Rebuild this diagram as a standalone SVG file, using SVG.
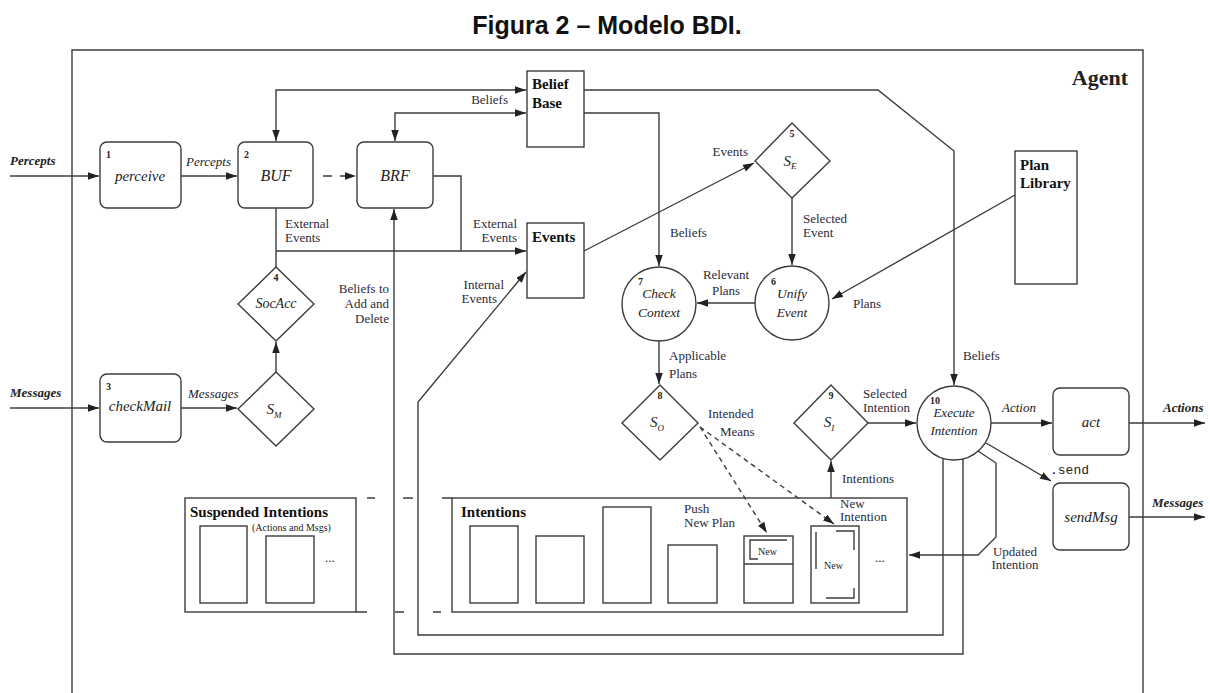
<svg xmlns="http://www.w3.org/2000/svg" width="1210" height="693" viewBox="0 0 1210 693">
<style>
.ln{fill:none;stroke:#3c3c3c;stroke-width:1.4}
.box{fill:#fff;stroke:#3c3c3c;stroke-width:1.4}
.t{font-family:"Liberation Serif",serif;fill:#222}
.lbl{font-family:"Liberation Serif",serif;font-size:13px;fill:#2a2a3a}
.it{font-family:"Liberation Serif",serif;font-style:italic;fill:#222}
.num{font-family:"Liberation Serif",serif;font-weight:bold;font-size:10px;fill:#222}
.bi{font-family:"Liberation Serif",serif;font-style:italic;font-weight:bold;font-size:13px;fill:#222}
.b{font-family:"Liberation Serif",serif;font-weight:bold;font-size:15px;fill:#111}
</style>
<defs>
<marker id="ah" markerUnits="userSpaceOnUse" markerWidth="12" markerHeight="8" refX="11" refY="3.75" orient="auto-start-reverse" viewBox="0 0 12 8">
<path d="M0,0 L11,3.75 L0,7.5 z" fill="#222"/>
</marker>
</defs>
<rect width="1210" height="693" fill="#fff"/>
<text x="607" y="34" text-anchor="middle" font-family="Liberation Sans, Arial, sans-serif" font-weight="bold" font-size="25" fill="#111">Figura 2 – Modelo BDI.</text>

<g id="agent-frame">
<path class="ln" d="M72,693 V50 H1143 V693"/>
<text x="1128" y="85" text-anchor="end" class="t" font-weight="bold" font-size="22">Agent</text>
</g>

<g id="n1-perceive">
<rect class="box" x="100" y="142" width="81" height="66" rx="7"/>
<text x="106" y="158" class="num">1</text>
<text x="140" y="181" text-anchor="middle" class="it" font-size="15">perceive</text>
</g>
<g id="n2-buf">
<rect class="box" x="238" y="142" width="75" height="66" rx="7"/>
<text x="244" y="158" class="num">2</text>
<text x="276" y="181" text-anchor="middle" class="it" font-size="16">BUF</text>
</g>
<g id="brf">
<rect class="box" x="357" y="142" width="76" height="66" rx="7"/>
<text x="395" y="181" text-anchor="middle" class="it" font-size="16">BRF</text>
</g>
<g id="belief-base">
<rect class="box" x="527" y="71" width="57" height="76"/>
<text x="532" y="89" class="b">Belief</text>
<text x="532" y="108" class="b">Base</text>
</g>
<g id="events">
<rect class="box" x="527" y="223" width="57" height="75"/>
<text x="532" y="242" class="b">Events</text>
</g>
<g id="plan-library">
<rect class="box" x="1015" y="151" width="62" height="133"/>
<text x="1020" y="170" class="b">Plan</text>
<text x="1020" y="188" class="b">Library</text>
</g>
<g id="n3-checkmail">
<rect class="box" x="100" y="374" width="81" height="68" rx="7"/>
<text x="106" y="390" class="num">3</text>
<text x="140" y="411" text-anchor="middle" class="it" font-size="15">checkMail</text>
</g>
<g id="n4-socacc">
<path class="box" d="M276,267 L314,304 L276,341 L238,304 Z"/>
<text x="276" y="281" text-anchor="middle" class="num">4</text>
<text x="276" y="308" text-anchor="middle" class="it" font-size="14">SocAcc</text>
</g>
<g id="sm">
<path class="box" d="M276,372 L314,409 L276,446 L238,409 Z"/>
<text x="274" y="414" text-anchor="middle" class="it" font-size="15">S<tspan font-size="9" dy="4">M</tspan></text>
</g>
<g id="n5-se">
<path class="box" d="M792,123 L830,161 L792,198 L755,161 Z"/>
<text x="792" y="137" text-anchor="middle" class="num">5</text>
<text x="790" y="166" text-anchor="middle" class="it" font-size="15">S<tspan font-size="9" dy="3">E</tspan></text>
</g>
<g id="n6-unify">
<circle class="box" cx="792" cy="303" r="37"/>
<text x="771" y="285" class="num">6</text>
<text x="792" y="298" text-anchor="middle" class="it" font-size="13.5">Unify</text>
<text x="792" y="317" text-anchor="middle" class="it" font-size="13.5">Event</text>
</g>
<g id="n7-check">
<circle class="box" cx="659" cy="304" r="37"/>
<text x="638" y="285" class="num">7</text>
<text x="659" y="298" text-anchor="middle" class="it" font-size="13.5">Check</text>
<text x="659" y="317" text-anchor="middle" class="it" font-size="13.5">Context</text>
</g>
<g id="n8-so">
<path class="box" d="M660,385 L698,423 L660,460 L622,423 Z"/>
<text x="660" y="399" text-anchor="middle" class="num">8</text>
<text x="657" y="427" text-anchor="middle" class="it" font-size="15">S<tspan font-size="9" dy="4">O</tspan></text>
</g>
<g id="n9-si">
<path class="box" d="M831,385 L868,423 L831,460 L794,423 Z"/>
<text x="831" y="399" text-anchor="middle" class="num">9</text>
<text x="829" y="427" text-anchor="middle" class="it" font-size="15">S<tspan font-size="9" dy="4">I</tspan></text>
</g>
<g id="n10-execute">
<circle class="box" cx="954" cy="423" r="37"/>
<text x="930" y="404" class="num">10</text>
<text x="954" y="417" text-anchor="middle" class="it" font-size="13">Execute</text>
<text x="954" y="435" text-anchor="middle" class="it" font-size="13">Intention</text>
</g>
<g id="act">
<rect class="box" x="1053" y="388" width="76" height="67" rx="7"/>
<text x="1091" y="427" text-anchor="middle" class="it" font-size="15">act</text>
</g>
<g id="sendmsg">
<rect class="box" x="1053" y="483" width="76" height="67" rx="7"/>
<text x="1091" y="522" text-anchor="middle" class="it" font-size="15">sendMsg</text>
</g>
<g id="suspended-intentions">
<rect class="box" x="185" y="498" width="171" height="114"/>
<text x="190" y="517" class="b">Suspended Intentions</text>
<text x="252" y="531" class="t" font-size="10">(Actions and Msgs)</text>
<rect class="box" x="200" y="526" width="47" height="77"/>
<rect class="box" x="266" y="536" width="48" height="67"/>
<text x="325" y="562" class="t" font-size="13">...</text>
</g>
<g id="intentions">
<rect class="box" x="452" y="498" width="455" height="114"/>
<text x="461" y="517" class="b">Intentions</text>
<rect class="box" x="470" y="526" width="48" height="77"/>
<rect class="box" x="536" y="536" width="48" height="67"/>
<rect class="box" x="603" y="507" width="48" height="96"/>
<rect class="box" x="668" y="545" width="49" height="58"/>
<rect class="box" x="744" y="536" width="49" height="67"/>
<path class="ln" d="M744,564 H793 M787,540 H750 V559 H758"/>
<text x="758" y="555" class="t" font-size="10">New</text>
<rect class="box" x="811" y="526" width="48" height="77"/>
<path class="ln" d="M836,531 H854 V550 M854,588 V598 H826 M816,532 V569"/>
<text x="824" y="569" class="t" font-size="10">New</text>
<text x="875" y="562" class="t" font-size="13">...</text>
</g>

<g id="connectors">
<path class="ln" d="M10,176 H99" marker-end="url(#ah)"/>
<path class="ln" d="M181,176 H237" marker-end="url(#ah)"/>
<path class="ln" d="M323,176 H356" stroke-dasharray="9,8" marker-end="url(#ah)"/>
<path class="ln" d="M276,141 V90 H526" marker-start="url(#ah)" marker-end="url(#ah)"/>
<path class="ln" d="M395,141 V113 H526" marker-start="url(#ah)" marker-end="url(#ah)"/>
<path class="ln" d="M433,176 H461 V251"/>
<path class="ln" d="M276,208 V267"/>
<path class="ln" d="M276,251 H526" marker-end="url(#ah)"/>
<path class="ln" d="M276,372 V342" marker-end="url(#ah)"/>
<path class="ln" d="M10,408 H99" marker-end="url(#ah)"/>
<path class="ln" d="M181,408 H237" marker-end="url(#ah)"/>
<path class="ln" d="M584,251 L754,163" marker-end="url(#ah)"/>
<path class="ln" d="M792,198 V265" marker-end="url(#ah)"/>
<path class="ln" d="M584,113 H659 V266" marker-end="url(#ah)"/>
<path class="ln" d="M584,90 H878 L954,151 V385" marker-end="url(#ah)"/>
<path class="ln" d="M1015,195 L832,299" marker-end="url(#ah)"/>
<path class="ln" d="M755,303 H697" marker-end="url(#ah)"/>
<path class="ln" d="M659,341 V384" marker-end="url(#ah)"/>
<path class="ln" d="M700,427 L767,533" stroke-dasharray="5,4" marker-end="url(#ah)"/>
<path class="ln" d="M700,427 L834,524" stroke-dasharray="5,4" marker-end="url(#ah)"/>
<path class="ln" d="M831,498 V461" marker-end="url(#ah)"/>
<path class="ln" d="M868,423 H916" marker-end="url(#ah)"/>
<path class="ln" d="M991,423 H1052" marker-end="url(#ah)"/>
<path class="ln" d="M1129,423 H1205" marker-end="url(#ah)"/>
<path class="ln" d="M986,443 L1051,481" marker-end="url(#ah)"/>
<path class="ln" d="M1129,517 H1205" marker-end="url(#ah)"/>
<path class="ln" d="M978,451 L996,463 V537 L978,555 H909" marker-end="url(#ah)"/>
<path class="ln" d="M943,458 V635 H418 V402 L526,272" marker-end="url(#ah)"/>
<path class="ln" d="M963,459 V654 H394 V209" marker-end="url(#ah)"/>
<path class="ln" d="M367,498 H375 M403,498 H413 M442,498 H452 M356,612 H367 M395,612 H404 M433,612 H441"/>
</g>

<g id="connector-labels">
<text x="10" y="165" class="bi">Percepts</text>
<text x="186" y="166" class="it" font-size="13">Percepts</text>
<text x="508" y="104" text-anchor="end" class="lbl">Beliefs</text>
<text x="285" y="228" class="lbl">External</text>
<text x="285" y="242" class="lbl">Events</text>
<text x="517" y="228" text-anchor="end" class="lbl">External</text>
<text x="517" y="242" text-anchor="end" class="lbl">Events</text>
<text x="748" y="156" text-anchor="end" class="lbl">Events</text>
<text x="670" y="237" class="lbl">Beliefs</text>
<text x="803" y="223" class="lbl">Selected</text>
<text x="803" y="237" class="lbl">Event</text>
<text x="726" y="279" text-anchor="middle" class="lbl">Relevant</text>
<text x="726" y="295" text-anchor="middle" class="lbl">Plans</text>
<text x="853" y="308" class="lbl">Plans</text>
<text x="389" y="293" text-anchor="end" class="lbl">Beliefs to</text>
<text x="389" y="308" text-anchor="end" class="lbl">Add and</text>
<text x="389" y="323" text-anchor="end" class="lbl">Delete</text>
<text x="504" y="289" text-anchor="end" class="lbl">Internal</text>
<text x="497" y="303" text-anchor="end" class="lbl">Events</text>
<text x="10" y="397" class="bi">Messages</text>
<text x="188" y="398" class="it" font-size="13">Messages</text>
<text x="669" y="360" class="lbl">Applicable</text>
<text x="669" y="378" class="lbl">Plans</text>
<text x="708" y="418" class="lbl">Intended</text>
<text x="720" y="436" class="lbl">Means</text>
<text x="963" y="360" class="lbl">Beliefs</text>
<text x="863" y="398" class="lbl">Selected</text>
<text x="863" y="412" class="lbl">Intention</text>
<text x="842" y="483" class="lbl">Intentions</text>
<text x="1002" y="412" class="it" font-size="13">Action</text>
<text x="1163" y="412" class="bi">Actions</text>
<text x="1050" y="474" font-family="Liberation Mono, monospace" font-size="13" fill="#222">.send</text>
<text x="1152" y="507" class="bi">Messages</text>
<text x="1015" y="556" text-anchor="middle" class="lbl">Updated</text>
<text x="1015" y="569" text-anchor="middle" class="lbl">Intention</text>
<text x="684" y="513" class="lbl">Push</text>
<text x="684" y="527" class="lbl">New Plan</text>
<text x="840" y="508" class="lbl" font-size="10.5">New</text>
<text x="840" y="521" class="lbl" font-size="10.5">Intention</text>
</g>
</svg>
